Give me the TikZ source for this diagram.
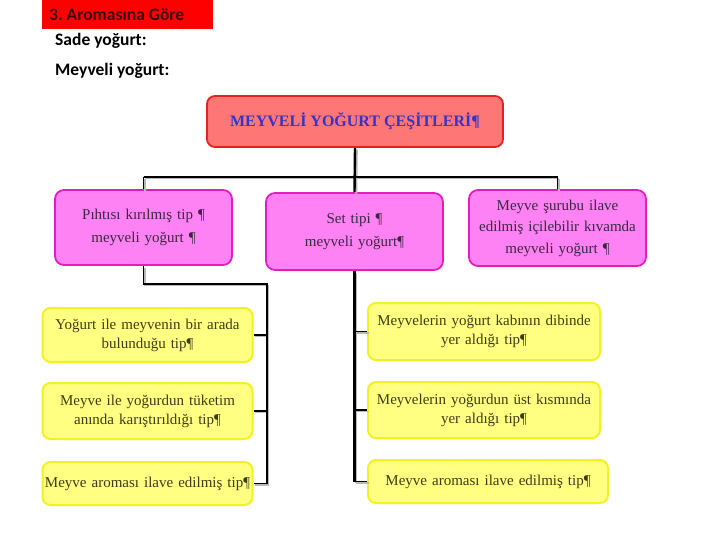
\documentclass[tikz,border=0pt]{standalone}
\usepackage{fontspec}
\setmainfont{Liberation Serif}
\newfontfamily\calib{Carlito}
\frenchspacing
\definecolor{hdrred}{HTML}{FF0000}
\definecolor{hdrtxt}{HTML}{3A0606}
\definecolor{topfill}{HTML}{FF7676}
\definecolor{topdraw}{HTML}{E42222}
\definecolor{toptxt}{HTML}{3434C8}
\definecolor{pinkfill}{HTML}{FF82F4}
\definecolor{pinkdraw}{HTML}{E41EBC}
\definecolor{pinktxt}{HTML}{3A2840}
\definecolor{yelfill}{HTML}{FFFF82}
\definecolor{yeldraw}{HTML}{F2F222}
\definecolor{yeltxt}{HTML}{3E3C14}
\tikzset{
  topbox/.style={draw=topdraw, fill=topfill, line width=1.8pt, rounded corners=8pt,
    minimum width=296, minimum height=51, text=toptxt, font=\bfseries\fontsize{16}{19}\selectfont},
  pinkbox/.style={draw=pinkdraw, fill=pinkfill, line width=1.8pt, rounded corners=9pt,
    minimum width=177, text width=170, align=center, inner sep=0pt, text=pinktxt,
    font=\fontsize{15}{23}\selectfont},
  yelbox/.style={draw=yeldraw, fill=yelfill, line width=2pt, rounded corners=8pt,
    text width=206, align=center, inner sep=0pt, text=yeltxt,
    font=\fontsize{15}{19}\selectfont},
  conn/.style={line width=1.6pt},
  thick conn/.style={line width=2.4pt},
  hdrfont/.style={font=\calib\bfseries\fontsize{17.5}{20}\selectfont}
}
\newcommand\myconns{%
  \draw[thick conn] (top.south) -- (pM.north);
  \draw[conn] (pL.north |- bus) -- (pR.north |- bus);
  \draw[conn] (pL.north |- bus) -- (pL.north);
  \draw[conn] (pR.north |- bus) -- (pR.north);
  \draw[conn] (pL.south) |- (lc) -- (lc |- yL3.east);
  \draw[conn] (yL1.east) -- (yL1.east -| lc);
  \draw[conn] (yL2.east) -- (yL2.east -| lc);
  \draw[conn] (yL3.east) -- (yL3.east -| lc);
  \draw[thick conn] (pM.south) -- (pM.south |- yR3.west);
  \draw[conn] (yR1.west) -- (yR1.west -| pM.south);
  \draw[conn] (yR2.west) -- (yR2.west -| pM.south);
  \draw[conn] (yR3.west) -- (yR3.west -| pM.south);
}
\begin{document}
\begin{tikzpicture}[x=1pt,y=-1pt]
\useasboundingbox (0,0) rectangle (720,540);
% header
\node[fill=hdrred, anchor=north west, minimum width=171, minimum height=29, inner sep=0pt] (hdr) at (42,0) {};
\node[anchor=west, inner sep=0pt, text=hdrtxt, hdrfont] (hdrtext) at (49,14.5) {3. Aromasına Göre};
\node[anchor=west, inner sep=0pt, hdrfont] (sade) at (55,41) {Sade yoğurt:};
\node[anchor=west, inner sep=0pt, hdrfont] (meyv) at (55,71) {Meyveli yoğurt:};
% boxes
\node[topbox] (top) at (355,121.5) {MEYVELİ YOĞURT ÇEŞİTLERİ¶};
\node[pinkbox, minimum height=75] (pL) at (143.5,227.5) {Pıhtısı kırılmış tip ¶\\ meyveli yoğurt ¶};
\node[pinkbox, minimum height=77] (pM) at (354.5,231.5) {Set tipi ¶\\ meyveli yoğurt¶};
\node[pinkbox, minimum height=76, font=\fontsize{15}{21.5}\selectfont] (pR) at (557.5,228) {Meyve şurubu ilave\\ edilmiş içilebilir kıvamda\\ meyveli yoğurt ¶};
\node[yelbox, minimum width=210, minimum height=54] (yL1) at (147.5,335) {Yoğurt ile meyvenin bir arada\\ bulunduğu tip¶};
\node[yelbox, minimum width=210, minimum height=56] (yL2) at (147.5,411) {Meyve ile yoğurdun tüketim\\ anında karıştırıldığı tip¶};
\node[yelbox, minimum width=210, minimum height=43] (yL3) at (147.5,483.5) {Meyve aroması ilave edilmiş tip¶};
\node[yelbox, minimum width=232, minimum height=57, text width=230] (yR1) at (484,331.5) {Meyvelerin yoğurt kabının dibinde\\ yer aldığı tip¶};
\node[yelbox, minimum width=232, minimum height=56, text width=230] (yR2) at (484,410) {Meyvelerin yoğurdun üst kısmında\\ yer aldığı tip¶};
\node[yelbox, minimum width=240, minimum height=43, text width=236] (yR3) at (488,481.5) {Meyve aroması ilave edilmiş tip¶};
% connector helpers
\coordinate (bus) at (355,177);
\coordinate (lc) at (267,284);
% shadow
\begin{scope}[transform canvas={shift={(1.6pt,-1.6pt)}}]
\begin{scope}[every path/.style={draw=gray!55}]
\myconns
\end{scope}
\end{scope}
\myconns
\end{tikzpicture}
\end{document}
